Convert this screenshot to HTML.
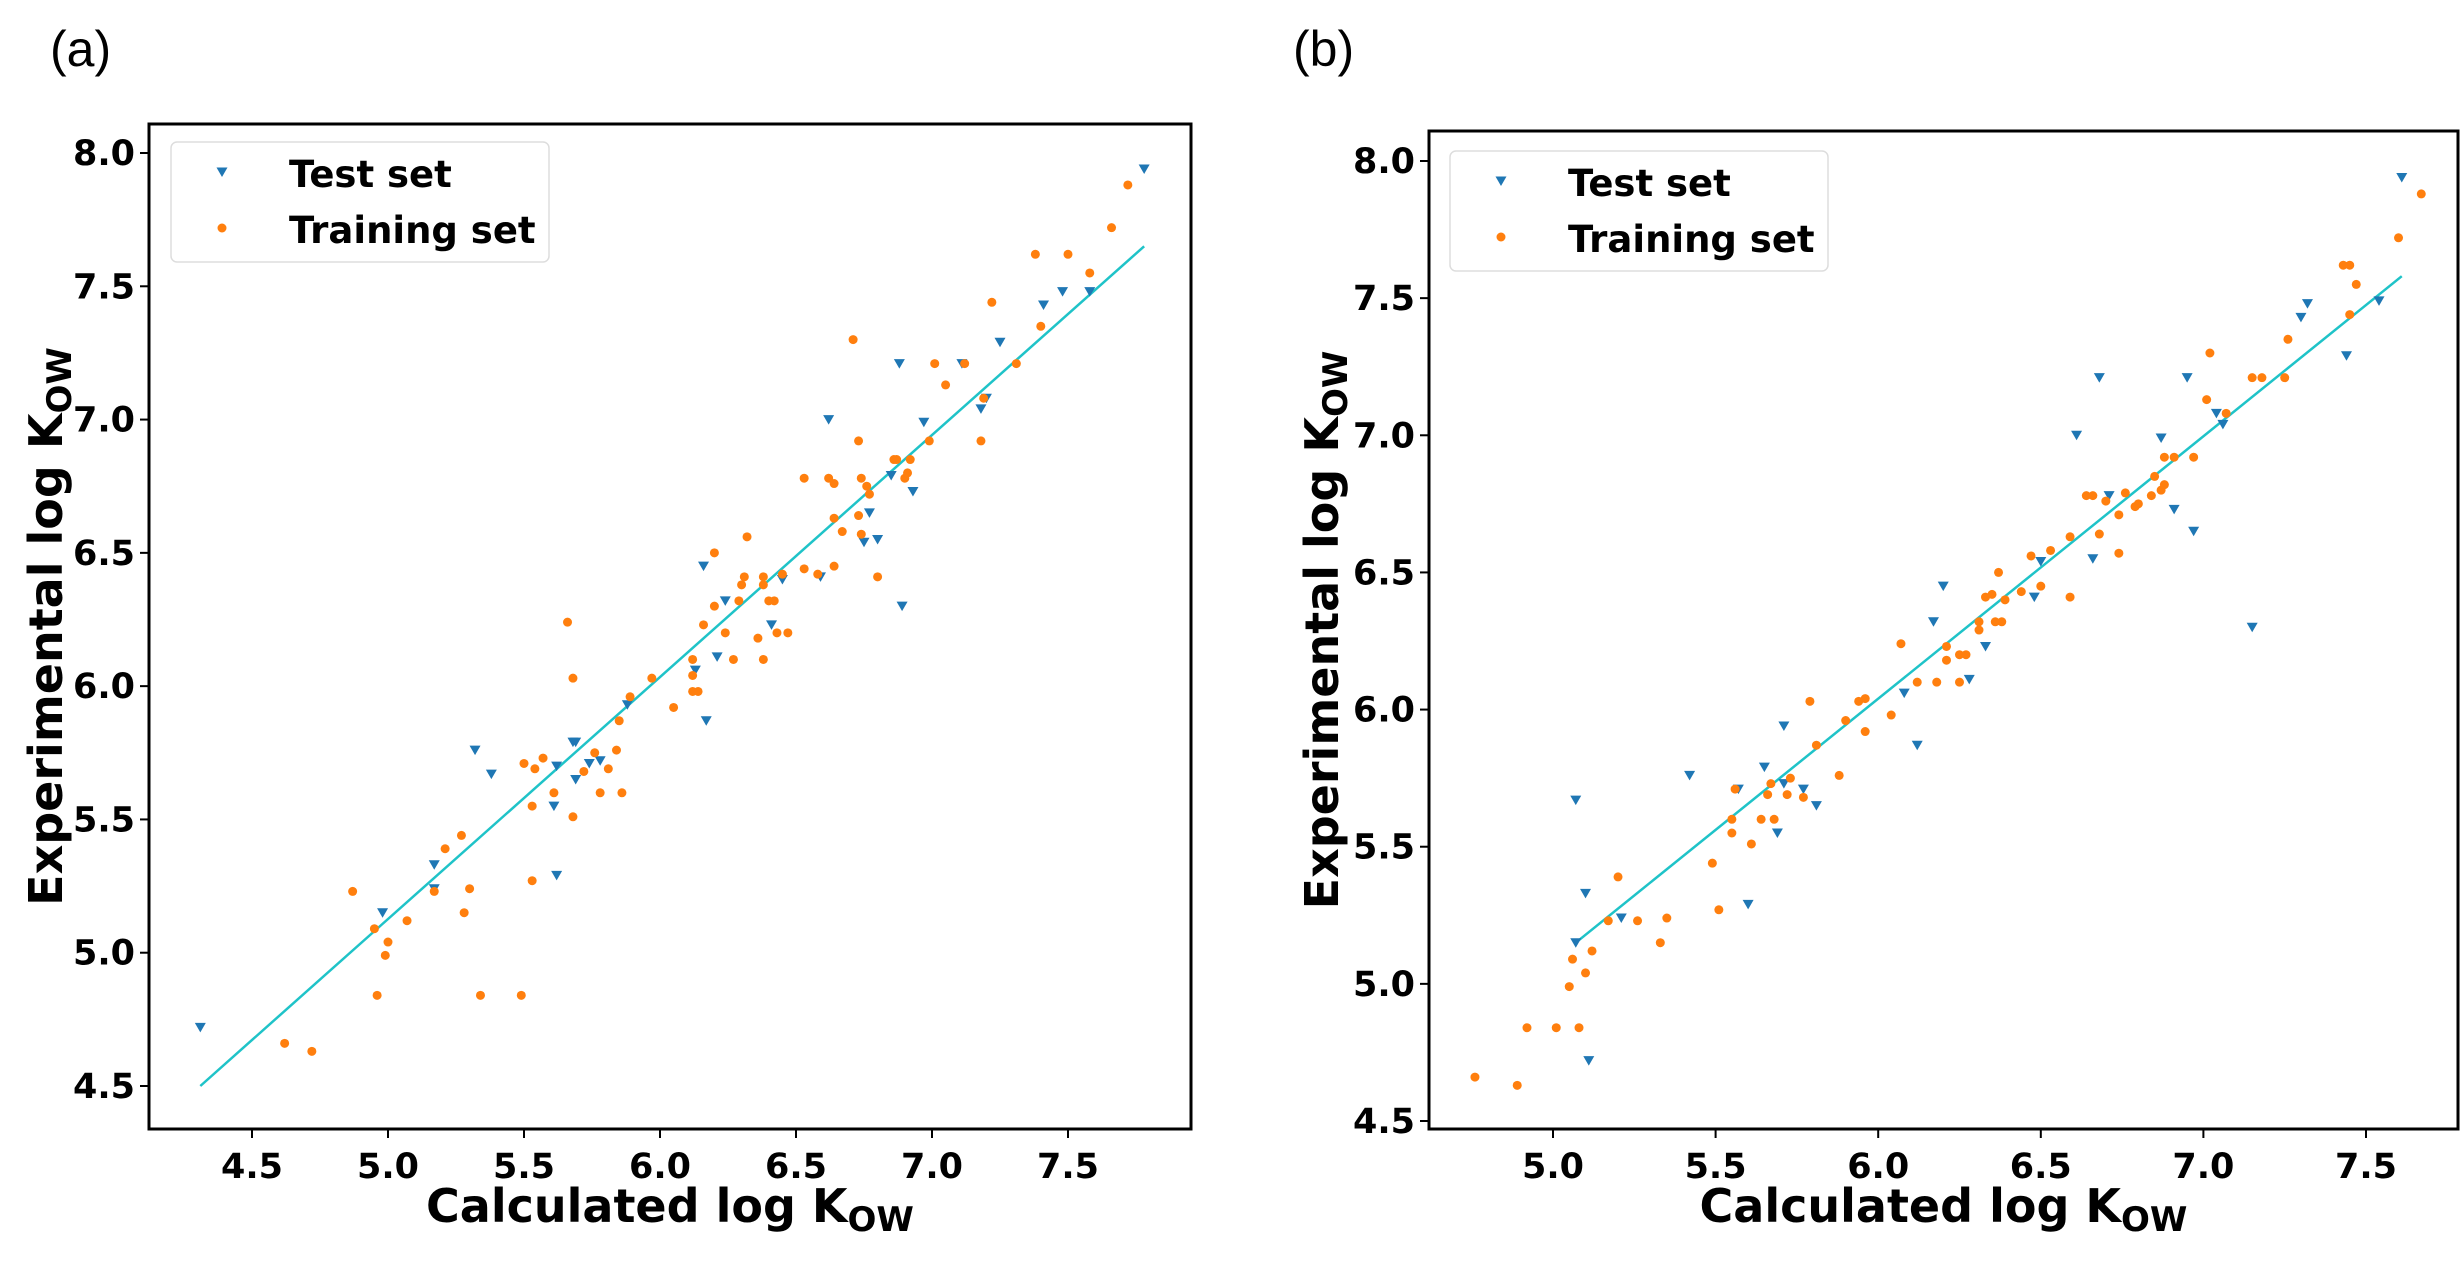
<!DOCTYPE html>
<html><head><meta charset="utf-8"><style>
html,body{margin:0;padding:0;background:#fff;}
svg{display:block;}
text{font-family:"DejaVu Sans","Liberation Sans",sans-serif;font-weight:bold;fill:#000;}
</style></head><body>
<svg id="fig" width="2462" height="1261" viewBox="0 0 2462 1261" xmlns="http://www.w3.org/2000/svg">
<text x="50" y="66" style="font-family:'Liberation Sans',sans-serif;font-weight:normal;font-size:50px">(a)</text>
<text x="1293" y="66" style="font-family:'Liberation Sans',sans-serif;font-weight:normal;font-size:50px">(b)</text>
</svg>
<script>
const ticksA_X=[4.5,5.0,5.5,6.0,6.5,7.0,7.5];
const ticksB_X=[5.0,5.5,6.0,6.5,7.0,7.5];
const ticksY=[4.5,5.0,5.5,6.0,6.5,7.0,7.5,8.0];
const testA=[[4.31,4.72],[4.98,5.15],[5.17,5.33],[5.17,5.24],[5.32,5.76],[5.38,5.67],[5.61,5.55],[5.62,5.70],[5.62,5.29],[5.68,5.79],[5.69,5.79],[5.69,5.65],[5.74,5.71],[5.78,5.72],[5.88,5.93],[6.13,6.06],[6.16,6.45],[6.17,5.87],[6.21,6.11],[6.24,6.32],[6.41,6.23],[6.45,6.40],[6.59,6.41],[6.62,7.00],[6.75,6.54],[6.77,6.65],[6.80,6.55],[6.85,6.79],[6.88,7.21],[6.89,6.30],[6.93,6.73],[6.97,6.99],[7.11,7.21],[7.18,7.04],[7.20,7.08],[7.25,7.29],[7.41,7.43],[7.48,7.48],[7.58,7.48],[7.78,7.94]];
const trainA=[[4.62,4.66],[4.72,4.63],[4.87,5.23],[4.95,5.09],[4.96,4.84],[4.99,4.99],[5.00,5.04],[5.07,5.12],[5.17,5.23],[5.21,5.39],[5.27,5.44],[5.28,5.15],[5.30,5.24],[5.34,4.84],[5.49,4.84],[5.50,5.71],[5.53,5.27],[5.53,5.55],[5.54,5.69],[5.57,5.73],[5.61,5.60],[5.66,6.24],[5.68,6.03],[5.68,5.51],[5.72,5.68],[5.76,5.75],[5.78,5.60],[5.81,5.69],[5.84,5.76],[5.85,5.87],[5.86,5.60],[5.89,5.96],[5.97,6.03],[6.05,5.92],[6.12,6.04],[6.12,6.10],[6.12,5.98],[6.14,5.98],[6.16,6.23],[6.20,6.30],[6.20,6.50],[6.24,6.20],[6.27,6.10],[6.29,6.32],[6.30,6.38],[6.31,6.41],[6.32,6.56],[6.36,6.18],[6.38,6.41],[6.38,6.38],[6.38,6.10],[6.40,6.32],[6.42,6.32],[6.43,6.20],[6.45,6.42],[6.47,6.20],[6.53,6.78],[6.53,6.44],[6.58,6.42],[6.62,6.78],[6.64,6.76],[6.64,6.63],[6.64,6.45],[6.67,6.58],[6.71,7.30],[6.73,6.92],[6.73,6.64],[6.74,6.78],[6.74,6.57],[6.76,6.75],[6.77,6.72],[6.80,6.41],[6.86,6.85],[6.87,6.85],[6.90,6.78],[6.91,6.80],[6.92,6.85],[6.99,6.92],[7.01,7.21],[7.05,7.13],[7.12,7.21],[7.18,6.92],[7.19,7.08],[7.22,7.44],[7.31,7.21],[7.38,7.62],[7.40,7.35],[7.50,7.62],[7.58,7.55],[7.66,7.72],[7.72,7.88]];
const fitA=[[4.31,4.50],[7.78,7.65]];
const testB=[[5.07,5.67],[5.07,5.15],[5.10,5.33],[5.11,4.72],[5.21,5.24],[5.42,5.76],[5.57,5.71],[5.60,5.29],[5.65,5.79],[5.69,5.55],[5.71,5.94],[5.71,5.73],[5.77,5.71],[5.81,5.65],[6.08,6.06],[6.12,5.87],[6.17,6.32],[6.20,6.45],[6.28,6.11],[6.33,6.23],[6.48,6.41],[6.50,6.54],[6.61,7.00],[6.66,6.55],[6.68,7.21],[6.71,6.78],[6.87,6.99],[6.91,6.73],[6.95,7.21],[6.97,6.65],[7.04,7.08],[7.06,7.04],[7.15,6.30],[7.30,7.43],[7.32,7.48],[7.44,7.29],[7.54,7.49],[7.61,7.94]];
const trainB=[[4.76,4.66],[4.89,4.63],[4.92,4.84],[5.01,4.84],[5.05,4.99],[5.06,5.09],[5.08,4.84],[5.10,5.04],[5.12,5.12],[5.17,5.23],[5.20,5.39],[5.26,5.23],[5.33,5.15],[5.35,5.24],[5.49,5.44],[5.51,5.27],[5.55,5.55],[5.55,5.60],[5.56,5.71],[5.61,5.51],[5.64,5.60],[5.66,5.69],[5.67,5.73],[5.68,5.60],[5.72,5.69],[5.73,5.75],[5.77,5.68],[5.79,6.03],[5.81,5.87],[5.88,5.76],[5.90,5.96],[5.94,6.03],[5.96,5.92],[5.96,6.04],[6.04,5.98],[6.07,6.24],[6.12,6.10],[6.18,6.10],[6.21,6.23],[6.21,6.18],[6.25,6.20],[6.25,6.10],[6.27,6.20],[6.31,6.29],[6.31,6.32],[6.33,6.41],[6.35,6.42],[6.36,6.32],[6.37,6.50],[6.38,6.32],[6.39,6.40],[6.44,6.43],[6.47,6.56],[6.50,6.45],[6.53,6.58],[6.59,6.41],[6.59,6.63],[6.64,6.78],[6.66,6.78],[6.68,6.64],[6.70,6.76],[6.74,6.71],[6.74,6.57],[6.76,6.79],[6.79,6.74],[6.80,6.75],[6.84,6.78],[6.85,6.85],[6.87,6.80],[6.88,6.92],[6.88,6.82],[6.91,6.92],[6.97,6.92],[7.01,7.13],[7.02,7.30],[7.07,7.08],[7.15,7.21],[7.18,7.21],[7.25,7.21],[7.26,7.35],[7.43,7.62],[7.45,7.62],[7.45,7.44],[7.47,7.55],[7.60,7.72],[7.67,7.88]];
const fitB=[[5.07,5.15],[7.61,7.58]];

const NS='http://www.w3.org/2000/svg';
const svg=document.getElementById('fig');
function mk(tag,attrs,parent){const e=document.createElementNS(NS,tag);for(const k in attrs)e.setAttribute(k,attrs[k]);(parent||svg).appendChild(e);return e;}

function panel(p){
  const g=mk('g',{});
  
  
  const sx=v=>p.x0px+(v-p.x0v)*(p.x1px-p.x0px)/(p.x1v-p.x0v);
  const sy=v=>p.y0px+(v-p.y0v)*(p.y1px-p.y0px)/(p.y1v-p.y0v);
  // fit line
  const ln=mk('line',{x1:sx(p.fit[0][0]),y1:sy(p.fit[0][1]),x2:sx(p.fit[1][0]),y2:sy(p.fit[1][1]),stroke:'#1fc3c8','stroke-width':2.5},g);
  
  
  // test triangles
  p.test.forEach(d=>{const x=sx(d[0]),y=sy(d[1]);
    const t=mk('polygon',{points:`${x-5.5},${y-4.5} ${x+5.5},${y-4.5} ${x},${y+5}`,fill:'#1f77b4'},g);
    
    });
  p.train.forEach(d=>{
    const c=mk('circle',{cx:sx(d[0]),cy:sy(d[1]),r:4.5,fill:'#ff7f0e'},g);
    
    });
  // frame
  const fr=mk('rect',{x:p.L,y:p.T,width:p.R-p.L,height:p.B-p.T,fill:'none',stroke:'#000','stroke-width':3},g);
  
  
  p.xt.forEach(v=>{const x=sx(v);
    mk('line',{x1:x,y1:p.B,x2:x,y2:p.B+9,stroke:'#000','stroke-width':2},g);
    const t=mk('text',{x:x,y:p.B+49,'text-anchor':'middle','font-size':35},g);t.textContent=v.toFixed(1);
    
    });
  ticksY.forEach(v=>{const y=sy(v);
    mk('line',{x1:p.L-9,y1:y,x2:p.L,y2:y,stroke:'#000','stroke-width':2},g);
    const t=mk('text',{x:p.L-14,y:y+12,'text-anchor':'end','font-size':35},g);t.textContent=v.toFixed(1);
    
    });
  // axis titles
  const xl=mk('text',{x:(p.L+p.R)/2,y:1222,'text-anchor':'middle','font-size':46},g);
  xl.innerHTML='Calculated log K<tspan font-size="34" dy="9">OW</tspan>';
  
  
  const yl=mk('text',{x:0,y:0,'text-anchor':'middle','font-size':46,transform:`translate(${p.ylx},${(p.T+p.B)/2}) rotate(-90)`},g);
  yl.innerHTML='Experimental log K<tspan font-size="34" dy="9">OW</tspan>';
  
  
  // legend
  const lg=mk('g',{},g);
  
  
  mk('rect',{x:p.lx,y:p.ly,width:378,height:120,rx:6,fill:'#fff',stroke:'#ddd','stroke-width':1.5},lg);
  const mx=p.lx+51,y1=p.ly+30,y2=p.ly+86;
  const lt=mk('polygon',{points:`${mx-5.5},${y1-4.5} ${mx+5.5},${y1-4.5} ${mx},${y1+5}`,fill:'#1f77b4'},lg);
  
  
  const lc=mk('circle',{cx:mx,cy:y2,r:4.5,fill:'#ff7f0e'},lg);
  
  
  const t1=mk('text',{x:p.lx+118,y:p.ly+45,'font-size':37},lg);t1.textContent='Test set';
  
  
  const t2=mk('text',{x:p.lx+118,y:p.ly+101,'font-size':37},lg);t2.textContent='Training set';
  
  
}
panel({name:'panel-a',L:149,R:1191,T:124,B:1129,x0v:4.5,x0px:252,x1v:7.5,x1px:1068,y0v:8.0,y0px:153,y1v:4.5,y1px:1086,
  xt:ticksA_X,test:testA,train:trainA,fit:fitA,ylx:62,lx:171,ly:142});
panel({name:'panel-b',L:1429,R:2458,T:131,B:1129,x0v:5.0,x0px:1553,x1v:7.5,x1px:2366,y0v:8.0,y0px:161,y1v:4.5,y1px:1121,
  xt:ticksB_X,test:testB,train:trainB,fit:fitB,ylx:1338,lx:1450,ly:151});
</script>
</body></html>
